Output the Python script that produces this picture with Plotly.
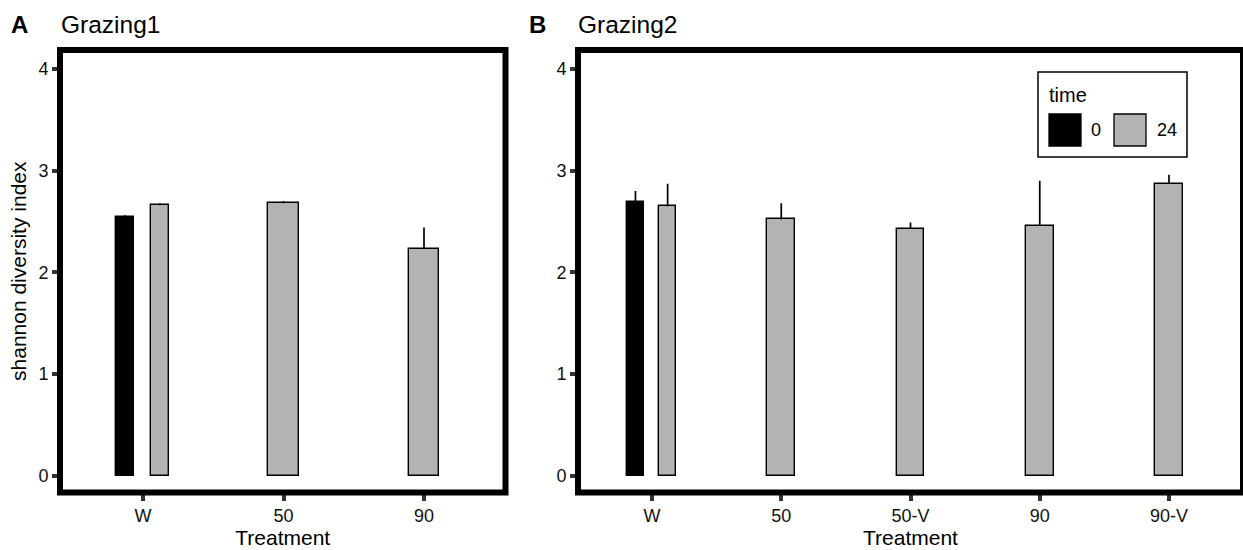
import plotly.graph_objects as go

# ---------------- data ----------------
a_treatments = ["W", "50", "90"]
a_t0_treatments = ["W"]
a_t0_mean = [2.54]
a_t0_se = [0.02]
a_t24_mean = [2.66, 2.68, 2.23]
a_t24_se = [0.02, 0.02, 0.21]

b_treatments = ["W", "50", "50-V", "90", "90-V"]
b_t0_treatments = ["W"]
b_t0_mean = [2.69]
b_t0_se = [0.11]
b_t24_mean = [2.65, 2.52, 2.43, 2.46, 2.87]
b_t24_se = [0.22, 0.16, 0.06, 0.44, 0.09]

y_ticks = [0, 1, 2, 3, 4]
time_levels = ["0", "24"]
time_colors = {"0": "#000000", "24": "#B3B3B3"}

# ---------------- geometry helpers ----------------
W, H = 1243, 550
def px(x): return x / W
def py(y): return 1 - y / H

FONT = "Liberation Sans, Arial, sans-serif"
TXT = "#111111"

# panel rectangles in pixels (border centres)
A_box = (60, 505.5, 50, 492.5)
B_box = (578, 1243, 50, 492.5)

# bar layout (in category units)
dodge_w = 0.128
dodge_off0 = -0.192
dodge_off24 = 0.057
single_w = 0.214

def t24_geom(cats, t0cats):
    widths, offs = [], []
    for c in cats:
        if c in t0cats:
            widths.append(dodge_w); offs.append(dodge_off24)
        else:
            widths.append(single_w); offs.append(-single_w / 2)
    return widths, offs

fig = go.Figure()

def add_panel(cats, t0cats, t0m, t0se, t24m, t24se, xa, ya):
    fig.add_trace(go.Bar(
        x=t0cats, y=t0m, name="0", xaxis=xa, yaxis=ya,
        width=[dodge_w] * len(t0cats), offset=[dodge_off0] * len(t0cats),
        marker=dict(color=time_colors["0"], line=dict(color="#000000", width=1.4)),
        error_y=dict(type="data", symmetric=False, array=t0se, arrayminus=[0] * len(t0se),
                     width=0, thickness=1.7, color="#000000"),
        showlegend=False))
    w, o = t24_geom(cats, t0cats)
    fig.add_trace(go.Bar(
        x=cats, y=t24m, name="24", xaxis=xa, yaxis=ya,
        width=w, offset=o,
        marker=dict(color=time_colors["24"], line=dict(color="#000000", width=1.4)),
        error_y=dict(type="data", symmetric=False, array=t24se, arrayminus=[0] * len(t24se),
                     width=0, thickness=1.7, color="#000000"),
        showlegend=False))

add_panel(a_treatments, a_t0_treatments, a_t0_mean, a_t0_se, a_t24_mean, a_t24_se, "x", "y")
add_panel(b_treatments, b_t0_treatments, b_t0_mean, b_t0_se, b_t24_mean, b_t24_se, "x2", "y2")

# y scale: 0 at 475.5 px, 4 at 69 px
unit = (475.5 - 69) / 4
y_lo = -(A_box[3] - 475.5) / unit
y_hi = 4 + (69 - A_box[2]) / unit

def xrange(box, first_px, spacing, n):
    lo = -(first_px - box[0]) / spacing
    hi = (n - 1) + (box[1] - (first_px + spacing * (n - 1))) / spacing
    return [lo, hi]

tickfont = dict(family=FONT, size=18, color=TXT)
axis_common = dict(showgrid=False, zeroline=False, showline=False,
                   ticks="outside", ticklen=7, tickwidth=4, tickcolor="#333333",
                   tickfont=tickfont)
title_font = dict(family=FONT, size=21, color="#000")

fig.update_layout(
    width=W, height=H,
    margin=dict(l=0, r=0, t=0, b=0),
    plot_bgcolor="white", paper_bgcolor="white",
    bargap=0, barmode="overlay",
    showlegend=False,
    xaxis=dict(domain=[px(A_box[0]), px(A_box[1])], anchor="y",
               type="category", categoryorder="array", categoryarray=a_treatments,
               range=xrange(A_box, 143, 140.5, 3),
               title=dict(text="Treatment", font=title_font, standoff=5),
               **axis_common),
    yaxis=dict(domain=[py(A_box[3]), py(A_box[2])], anchor="x",
               range=[y_lo, y_hi], tickvals=y_ticks,
               title=dict(text="shannon diversity index", font=title_font, standoff=6),
               **axis_common),
    xaxis2=dict(domain=[px(B_box[0]), px(B_box[1])], anchor="y2",
                type="category", categoryorder="array", categoryarray=b_treatments,
                range=xrange(B_box, 652, 129.25, 5),
                title=dict(text="Treatment", font=title_font, standoff=5),
                **axis_common),
    yaxis2=dict(domain=[py(B_box[3]), py(B_box[2])], anchor="x2",
                range=[y_lo, y_hi], tickvals=y_ticks,
                **axis_common),
)

shapes = []
for box in (A_box, B_box):
    shapes.append(dict(type="rect", xref="paper", yref="paper",
                       x0=px(box[0]), x1=px(box[1]), y0=py(box[3]), y1=py(box[2]),
                       line=dict(color="#000000", width=6), fillcolor="rgba(0,0,0,0)",
                       layer="above"))

# custom legend (ggplot style)
shapes.append(dict(type="rect", xref="paper", yref="paper",
                   x0=px(1038), x1=px(1187), y0=py(157), y1=py(72),
                   line=dict(color="#000000", width=1.5), fillcolor="white", layer="above"))
key_boxes = [(1049, 1081), (1114, 1146)]
for (k0, k1), lev in zip(key_boxes, time_levels):
    shapes.append(dict(type="rect", xref="paper", yref="paper",
                       x0=px(k0), x1=px(k1), y0=py(146), y1=py(114),
                       line=dict(color="#000000", width=1.3),
                       fillcolor=time_colors[lev], layer="above"))
fig.update_layout(shapes=shapes)

annotations = [
    dict(text="<b>A</b>", x=px(9), y=py(24), xanchor="left", yanchor="middle",
         font=dict(family=FONT, size=24, color="#000")),
    dict(text="Grazing1", x=px(59), y=py(24), xanchor="left", yanchor="middle",
         font=dict(family=FONT, size=24.5, color="#000")),
    dict(text="<b>B</b>", x=px(527), y=py(24), xanchor="left", yanchor="middle",
         font=dict(family=FONT, size=24, color="#000")),
    dict(text="Grazing2", x=px(576), y=py(24), xanchor="left", yanchor="middle",
         font=dict(family=FONT, size=24.5, color="#000")),
    dict(text="time", x=px(1047), y=py(95), xanchor="left", yanchor="middle",
         font=dict(family=FONT, size=20, color="#000")),
    dict(text=time_levels[0], x=px(1089), y=py(130), xanchor="left", yanchor="middle",
         font=dict(family=FONT, size=18, color="#000")),
    dict(text=time_levels[1], x=px(1155), y=py(130), xanchor="left", yanchor="middle",
         font=dict(family=FONT, size=18, color="#000")),
]
for a in annotations:
    a.update(xref="paper", yref="paper", showarrow=False)
fig.update_layout(annotations=annotations)

fig.write_html("out.html")
